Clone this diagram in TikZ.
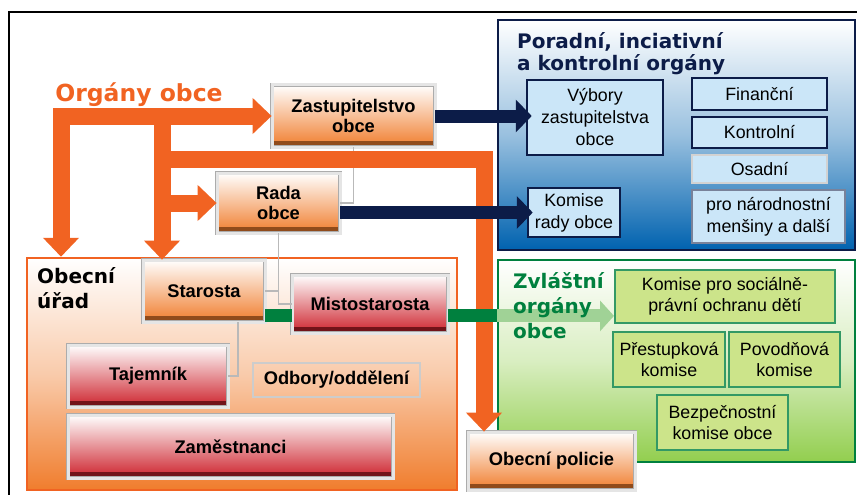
\documentclass[tikz,border=0pt]{standalone}
\usepackage{fontspec}
\setmainfont{Liberation Sans}
\newfontfamily\headfont{DejaVu Sans}
\usetikzlibrary{arrows.meta}
\definecolor{orgorange}{RGB}{241,99,34}
\definecolor{boxorange}{RGB}{240,125,45}
\definecolor{boxred}{RGB}{205,35,45}
\definecolor{navy}{RGB}{12,28,72}
\definecolor{panelblue}{RGB}{0,98,175}
\definecolor{paleblue}{RGB}{203,230,248}
\definecolor{darkgreen}{RGB}{0,128,62}
\definecolor{panelgreen}{RGB}{146,206,78}
\definecolor{palegreen}{RGB}{204,228,138}
\definecolor{arrowgreen}{RGB}{160,210,150}
\tikzset{
  bevel/.style={draw=gray!65, line width=0.8pt, double=gray!20, double distance=3pt,
    inner sep=0pt, align=center, font=\fontsize{18.3}{19.5}\selectfont\bfseries},
  orgbox/.style={bevel, top color=white, bottom color=boxorange,
    path picture={\fill[boxorange!60!black] (path picture bounding box.south west)
      rectangle ([yshift=6pt]path picture bounding box.south east);}},
  redbox/.style={bevel, top color=white, bottom color=boxred,
    path picture={\fill[boxred!55!black] (path picture bounding box.south west)
      rectangle ([yshift=6pt]path picture bounding box.south east);}},
  bluebox/.style={draw=navy, line width=2.5pt, fill=paleblue, inner sep=0pt,
    align=center, font=\fontsize{17.8}{22}\selectfont},
  greenbox/.style={draw=darkgreen!80, line width=2pt, fill=palegreen, inner sep=0pt,
    align=center, font=\fontsize{17.8}{21.5}\selectfont},
  panel/.style={line width=2.5pt, inner sep=0pt},
  title/.style={inner sep=0pt, align=left, font=\headfont\bfseries\fontsize{20}{22}\selectfont},
  link/.style={gray!55, line width=1.5pt},
  orgline/.style={orgorange, line width=17pt, line join=miter},
  orgtip/.style={-{Triangle[width=35pt,length=19pt]}},
  orgboth/.style={{Triangle[width=35pt,length=19pt]}-{Triangle[width=35pt,length=19pt]}},
  navyline/.style={navy, line width=13pt, -{Triangle[width=32pt,length=16pt]}, shorten >=-6pt},
  greenline/.style={darkgreen, line width=13pt},
  paleline/.style={arrowgreen, line width=13pt, -{Triangle[width=30pt,length=14pt]}}
}
\begin{document}
\begin{tikzpicture}[x=1pt,y=-1pt]
\useasboundingbox (0,0) rectangle (857,495);
\draw[line width=2.5pt] (9,500) -- (9,12) -- (860,12);
% panels
\node[panel, draw=orgorange, top color=white, bottom color=boxorange, middle color=boxorange!40,
  minimum width=430pt, minimum height=232pt] (urad) at (242,374) {};
\node[panel, draw=navy, top color=white, bottom color=panelblue, middle color=panelblue!40,
  minimum width=357pt, minimum height=230pt] (porad) at (676.5,135) {};
\node[panel, draw=darkgreen, top color=white, bottom color=panelgreen, middle color=panelgreen!35,
  minimum width=357pt, minimum height=202pt] (zvl) at (676.5,361) {};
% organy obce
\node[orgbox, minimum width=163pt, minimum height=62pt] (zast) at (353.5,116) {Zastupitelstvo\\obce};
\node[orgbox, minimum width=123pt, minimum height=60pt] (rada) at (278.5,203) {Rada\\obce};
\node[orgbox, minimum width=122pt, minimum height=62pt] (staro) at (204,291) {Starosta};
\node[redbox, minimum width=156pt, minimum height=58pt] (misto) at (370,304) {Mistostarosta};
\node[redbox, minimum width=160pt, minimum height=62pt] (taj) at (148,376) {Tajemník};
\node[draw=gray!40, line width=2pt, minimum width=167pt, minimum height=34pt,
  font=\fontsize{18.3}{19.5}\selectfont\bfseries] (odbory) at (336.5,380) {Odbory/oddělení};
\node[redbox, minimum width=325pt, minimum height=63pt] (zam) at (230.5,446.5) {Zaměstnanci};
\node[orgbox, minimum width=167pt, minimum height=58pt] (policie) at (551.5,461) {Obecní policie};
% poradni organy
\node[bluebox, minimum width=136pt, minimum height=75pt] (vybory) at (595,117.5) {Výbory\\zastupitelstva\\obce};
\node[bluebox, minimum width=92pt, minimum height=49pt] (komrady) at (574,212.5) {Komise\\rady obce};
\node[bluebox, minimum width=135pt, minimum height=32pt] (financ) at (759.5,94) {Finanční};
\node[bluebox, minimum width=135pt, minimum height=31pt] (kontrol) at (759.5,132.5) {Kontrolní};
\node[bluebox, draw=gray!35, line width=1.2pt, minimum width=135pt, minimum height=28pt] (osad) at (759.5,169) {Osadní};
\node[bluebox, draw=navy!55, line width=1.5pt, minimum width=153pt, minimum height=53pt] (narod) at (768.5,216.5) {pro národnostní\\menšiny a další};
% zvlastni organy
\node[greenbox, minimum width=220pt, minimum height=53pt] (komsoc) at (725,296.5) {Komise pro sociálně-\\právní ochranu dětí};
\node[greenbox, minimum width=112pt, minimum height=55pt] (prest) at (669,359.5) {Přestupková\\komise};
\node[greenbox, minimum width=111pt, minimum height=55pt] (povod) at (784.5,359.5) {Povodňová\\komise};
\node[greenbox, minimum width=131pt, minimum height=55pt] (bezp) at (722.5,422.5) {Bezpečnostní\\komise obce};
% links
\draw[link] (zast.south) |- (rada.east);
\draw[link] (rada.south) |- (misto.west);
\draw[link] (staro.east) -- (staro.east -| rada.south);
\draw[link] ([xshift=34pt]staro.south) |- (taj.east);
% orange arrows
\coordinate (trunk) at (61,116);
\coordinate (split) at (162,116);
\coordinate (bend) at (484,159);
\draw[orgline, orgboth] (trunk |- urad.north) |- (zast.west);
\draw[orgline, orgtip] (split) -- (split |- staro.north);
\draw[orgline, orgtip] (split |- rada.west) -- (rada.west);
\draw[orgline, orgtip] (split |- bend) -- (bend) -- (bend |- policie.north);
% navy arrows
\draw[navyline] (zast.east) -- (zast.east -| vybory.west);
\draw[navyline] (rada.east |- komrady.west) -- (komrady.west);
% green bar
\coordinate (gl) at ([yshift=6.5pt]staro.south east);
\draw[greenline] (gl) -- (gl -| misto.west);
\draw[greenline] (gl -| misto.east) -- (gl -| zvl.west);
\draw[paleline] (gl -| zvl.west) -- (gl -| komsoc.west);
% titles
\node[title, text=orgorange, font=\headfont\bfseries\fontsize{23.5}{25}\selectfont] (organy) at (139,95) {Orgány obce};
\node[title, anchor=north west, text=navy] (poradtxt) at (517,32) {Poradní, inciativní\\a kontrolní orgány};
\node[title, anchor=north west, font=\headfont\bfseries\fontsize{20}{25}\selectfont] (uradtxt) at (37,267) {Obecní\\úřad};
\node[title, anchor=north west, text=darkgreen, font=\headfont\bfseries\fontsize{20}{25}\selectfont] (zvltxt) at (513,272) {Zvláštní\\orgány\\obce};
\end{tikzpicture}
\end{document}
